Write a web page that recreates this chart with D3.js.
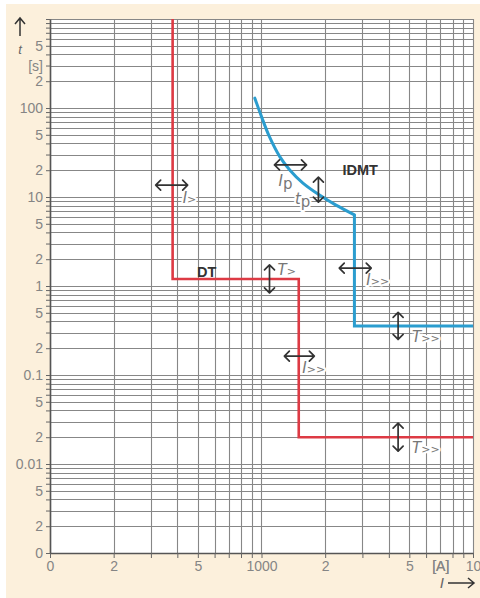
<!DOCTYPE html>
<html>
<head>
<meta charset="utf-8">
<script src="https://cdn.jsdelivr.net/npm/d3@7"></script>
<style>
  body { margin: 0; background: #fff; }
  svg { display: block; font-family: "Liberation Sans", Arial, sans-serif; }
</style>
</head>
<body>
<div id="chart"></div>
<script>
// DT (definite time) characteristic, current in A, time in s
const dtCurrent = [380, 380, 1500, 1500, 10000];
const dtTime = [1000, 1.2, 1.2, 0.02, 0.02];

// IDMT inverse part, then the instantaneous step
const idmtCurrent = [930, 1000, 1090, 1220, 1360, 1570, 1880, 2250, 2750];
const idmtTime = [129, 80, 47.6, 28.4, 20.1, 14.3, 10.5, 8.1, 6.3];
const idmtStepCurrent = [2750, 2750, 10000];
const idmtStepTime = [6.3, 0.356, 0.356];

// tick labels as printed on the chart
const xTickValues = [100, 200, 500, 1000, 2000, 5000, 7000, 10000];
const xTickLabels = ["0", "2", "5", "1000", "2", "5", "[A]", "10"];
const yTickValues = [0.001, 0.002, 0.005, 0.01, 0.02, 0.05, 0.1, 0.2, 0.5, 1, 2, 5, 10, 20, 50, 100, 200, 300, 500];
const yTickLabels = ["0", "2", "5", "0.01", "2", "5", "0.1", "2", "5", "1", "2", "5", "10", "2", "5", "100", "2", "[s]", "5"];

// setting arrows (direction, current, time, label)
const arrowDir = ["h", "h", "v", "v", "h", "h", "v", "v"];
const arrowCurrent = [376, 1371, 1858, 1091, 2775, 1510, 4425, 4425];
const arrowTime = [13.6, 22.9, 12.1, 1.2, 1.59, 0.163, 0.356, 0.02];
const arrowLabel = ["I>", "Ip", "tp", "T>", "I>>", "I>>", "T>>", "T>>"];

// curve names
const curveNames = ["DT", "IDMT"];
const curveNameCurrent = [550, 2930];
const curveNameTime = [1.42, 20];

const width = 480, height = 598;
const plot = { left: 50, right: 473, top: 19, bottom: 553 };

const svg = d3.select('#chart').append('svg')
    .attr('width', width)
    .attr('height', height);

// cream background with thin white border on top/left
svg.append('rect')
    .attr('x', 6).attr('y', 4)
    .attr('width', width - 6).attr('height', height - 4)
    .attr('fill', '#fcf0dc');

const x = d3.scaleLog().domain([100, 10000]).range([plot.left, plot.right]);
const y = d3.scaleLog().domain([0.001, 1000]).range([plot.bottom, plot.top]);

svg.append('rect')
    .attr('x', plot.left).attr('y', plot.top)
    .attr('width', plot.right - plot.left).attr('height', plot.bottom - plot.top)
    .attr('fill', '#fff');

// grid
const grid = svg.append('g').attr('stroke', '#878787').attr('stroke-width', 1.1);
grid.selectAll('line.v')
    .data(x.ticks())
    .enter().append('line')
    .attr('x1', d => Math.round(x(d)) + 0.5).attr('x2', d => Math.round(x(d)) + 0.5)
    .attr('y1', plot.top).attr('y2', plot.bottom);
grid.selectAll('line.h')
    .data(y.ticks())
    .enter().append('line')
    .attr('y1', d => Math.round(y(d)) + 0.5).attr('y2', d => Math.round(y(d)) + 0.5)
    .attr('x1', plot.left).attr('x2', plot.right);

// axes
const xLab = new Map(xTickValues.map((v, i) => [v, xTickLabels[i]]));
const yLab = new Map(yTickValues.map((v, i) => [+v.toPrecision(3), yTickLabels[i]]));

const xAxis = svg.append('g')
    .attr('transform', `translate(0,${plot.bottom})`)
    .call(d3.axisBottom(x)
        .tickValues(x.ticks().concat([7000]))
        .tickSize(5).tickSizeOuter(0).tickPadding(3)
        .tickFormat(d => xLab.get(d) || ''));

const yAxis = svg.append('g')
    .attr('transform', `translate(${plot.left},0)`)
    .call(d3.axisLeft(y)
        .tickValues(y.ticks())
        .tickSize(4).tickSizeOuter(0).tickPadding(3)
        .tickFormat(d => yLab.get(+d.toPrecision(3)) || ''));

[xAxis, yAxis].forEach(g => {
    g.select('.domain').attr('stroke', '#555').attr('stroke-width', 1.6);
    g.selectAll('.tick line').attr('stroke', '#666');
    g.selectAll('.tick text')
        .attr('fill', '#858585')
        .attr('font-size', '14px')
        .attr('font-family', '"Liberation Sans", Arial, sans-serif');
});
xAxis.selectAll('.tick').filter(d => d === 7000).select('line').remove();

// curves
const line = d3.line().x(d => x(d[0])).y(d => y(d[1]));

svg.append('path')
    .datum(dtCurrent.map((c, i) => [c, dtTime[i]]))
    .attr('d', line)
    .attr('fill', 'none')
    .attr('stroke', '#dd3a44')
    .attr('stroke-width', 2.6);

svg.append('path')
    .datum(idmtCurrent.map((c, i) => [c, idmtTime[i]]))
    .attr('d', line.curve(d3.curveCatmullRom))
    .attr('fill', 'none')
    .attr('stroke', '#2b9dcf')
    .attr('stroke-width', 3)
    .attr('stroke-linecap', 'round');

svg.append('path')
    .datum(idmtStepCurrent.map((c, i) => [c, idmtStepTime[i]]))
    .attr('d', line.curve(d3.curveLinear))
    .attr('fill', 'none')
    .attr('stroke', '#2b9dcf')
    .attr('stroke-width', 3);

// setting arrows
const labelOffset = [[11, 18], [-12, 21], [-8, 14], [8, -4], [11, 17], [3, 17], [14, 16], [14, 16]];
const labelAnchor = ['start', 'start', 'end', 'start', 'start', 'start', 'start', 'start'];
const half = [16, 16, 12.5, 14, 16, 15, 13.5, 14];

const ann = svg.append('g');
arrowDir.forEach((dir, i) => {
    const cx = x(arrowCurrent[i]), cy = y(arrowTime[i]);
    const h = half[i], a = 5;
    let p;
    if (dir === 'h') {
        p = `M${cx - h},${cy}H${cx + h}` +
            `M${cx - h + a},${cy - a}L${cx - h},${cy}L${cx - h + a},${cy + a}` +
            `M${cx + h - a},${cy - a}L${cx + h},${cy}L${cx + h - a},${cy + a}`;
    } else {
        p = `M${cx},${cy - h}V${cy + h}` +
            `M${cx - a},${cy - h + a}L${cx},${cy - h}L${cx + a},${cy - h + a}` +
            `M${cx - a},${cy + h - a}L${cx},${cy + h}L${cx + a},${cy + h - a}`;
    }
    // label with white knock-out
    const tx = cx + labelOffset[i][0], ty = cy + labelOffset[i][1];
    const t = ann.append('text')
        .attr('x', tx).attr('y', ty)
        .attr('text-anchor', labelAnchor[i])
        .attr('font-size', '15px')
        .attr('font-style', 'italic')
        .attr('font-family', '"DejaVu Sans", sans-serif')
        .attr('fill', '#777')
        .attr('stroke', '#fff').attr('stroke-width', 4)
        .attr('paint-order', 'stroke')
        .attr('stroke-linejoin', 'round');
    const lab = arrowLabel[i];
    t.append('tspan').text(lab[0]);
    const rest = lab.slice(1);
    if (rest === 'p') {
        t.append('tspan').attr('dy', 3).attr('font-style', 'normal').text('p');
    } else {
        t.append('tspan').attr('font-size', '11px').text(rest);
    }
    ann.append('path')
        .attr('d', p)
        .attr('fill', 'none')
        .attr('stroke', '#333')
        .attr('stroke-width', 1.7)
        .attr('stroke-linejoin', 'round')
        .attr('stroke-linecap', 'round');
});

// curve names
svg.selectAll('text.name')
    .data(curveNames)
    .enter().append('text')
    .attr('class', 'name')
    .attr('x', (d, i) => x(curveNameCurrent[i]))
    .attr('y', (d, i) => y(curveNameTime[i]) + 5)
    .attr('text-anchor', 'middle')
    .attr('font-size', '14.5px')
    .attr('font-weight', 'bold')
    .attr('fill', '#333')
    .text(d => d);

// axis titles with arrows
const titles = svg.append('g').attr('stroke', '#333').attr('stroke-width', 1.5).attr('fill', 'none');
titles.append('path').attr('d', 'M20,36V19M15,24L20,18L25,24');
svg.append('text')
    .attr('x', 20).attr('y', 54)
    .attr('text-anchor', 'middle')
    .attr('font-size', '13px').attr('font-style', 'italic')
    .attr('fill', '#666')
    .text('t');

titles.append('path').attr('d', 'M448,583H474M468,578L474,583L468,588');
svg.append('text')
    .attr('x', 442).attr('y', 588)
    .attr('text-anchor', 'middle')
    .attr('font-size', '14px').attr('font-style', 'italic')
    .attr('font-family', '"DejaVu Sans", sans-serif')
    .attr('fill', '#666')
    .text('I');
</script>
</body>
</html>
